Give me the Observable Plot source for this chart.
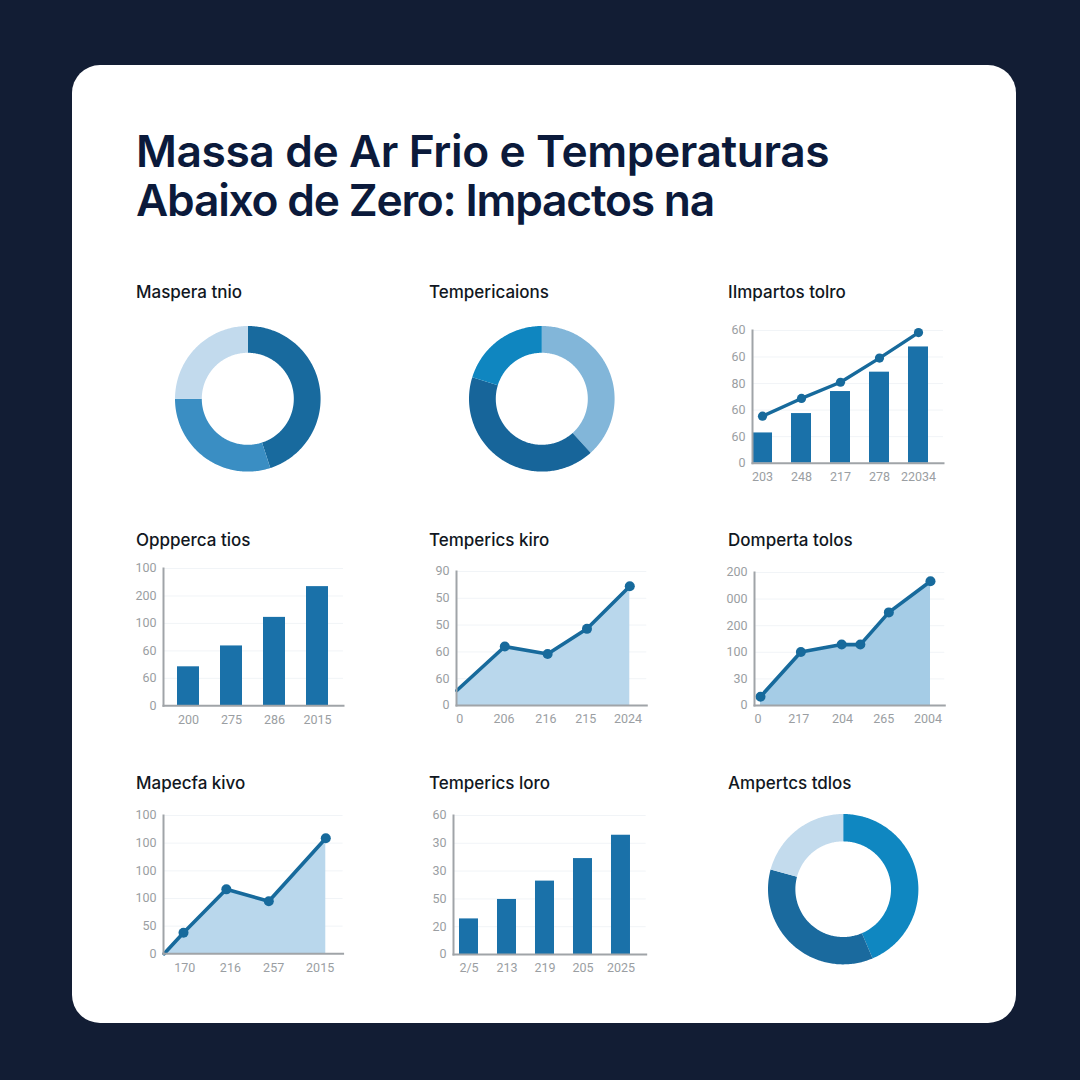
<!DOCTYPE html>
<html lang="pt">
<head>
<meta charset="utf-8">
<script src="https://cdn.jsdelivr.net/npm/d3@7"></script>
<script src="https://cdn.jsdelivr.net/npm/@observablehq/plot@0.6"></script>
<style>
html,body{margin:0;padding:0;width:1080px;height:1080px;overflow:hidden;background:#121d34;}
#stage{position:relative;width:1080px;height:1080px;background:#121d34;}
#card{position:absolute;left:72px;top:65px;width:944px;height:958px;background:#fff;border-radius:28px;}
h1{position:absolute;left:136px;top:127px;margin:0;font:600 44.3px/49px Inter,sans-serif;color:#0b1a3b;letter-spacing:-0.4px;white-space:nowrap;}
h1 span{letter-spacing:-1.2px;}
.t{position:absolute;font:500 17px/20px Inter,sans-serif;color:#111722;white-space:nowrap;}
.p{position:absolute;}
.p svg{display:block;background:transparent;}
</style>
</head>
<body>
<div id="stage"><div id="card"></div>
<h1>Massa de Ar Frio e Temperaturas<br><span>Abaixo de Zero: Impactos na</span></h1>
</div>
<script>
// ---- data ----
const panelTitles = ["Maspera tnio","Tempericaions","IImpartos tolro","Oppperca tios","Temperics kiro","Domperta tolos","Mapecfa kivo","Temperics loro","Ampertcs tdlos"];

const donut1Values = [45, 30, 25];
const donut2Values = [38.3, 41.5, 20.2];
const donut3Values = [43.6, 35.6, 20.8];

const combo3XLabels = ["203","248","217","278","22034"];
const combo3YLabels = ["0","60","60","80","60","60"];
const combo3Bars = [1.14,1.87,2.70,3.43,4.38];
const combo3Line = [1.77,2.44,3.05,3.96,4.92];

const bars4XLabels = ["200","275","286","2015"];
const bars4YLabels = ["0","60","60","100","200","100"];
const bars4Values = [1.42,2.18,3.22,4.34];

const area5XTicks = [0.07,1.09,2.06,2.98,3.96];
const area5XLabels = ["0","206","216","215","2024"];
const area5YLabels = ["0","60","60","50","50","90"];
const area5X = [0,1.11,2.10,3.01,4];
const area5Y = [0.56,2.2,1.92,2.86,4.45];

const area6XTicks = [-0.06,0.90,1.93,2.90,3.94];
const area6XLabels = ["0","217","204","265","2004"];
const area6YLabels = ["0","30","100","200","000","200"];
const area6X = [0,0.95,1.91,2.35,3.02,4];
const area6Y = [0.33,2.01,2.29,2.29,3.5,4.67];

const area7XTicks = [0.51,1.64,2.71,3.86];
const area7XLabels = ["170","216","257","2015"];
const area7YLabels = ["0","50","100","100","100","100"];
const area7X = [0,0.48,1.54,2.59,4];
const area7Y = [0,0.76,2.33,1.9,4.18];

const bars8XLabels = ["2/5","213","219","205","2025"];
const bars8YLabels = ["0","20","50","30","30","60"];
const bars8Values = [1.28,1.98,2.64,3.45,4.29];

// ---- styles ----
const BLUE = "#1a71a9", LINE = "#176a9c", AXIS = "#a0a4a8", GRID = "#f1f4f7", TICK = "#9a9ea2";
const stage = document.getElementById("stage");
const FONT = {fontFamily:"Roboto, sans-serif",fontSize:"12.5px",color:TICK,background:"transparent",overflow:"visible"};

function place(node,left,top){
  const d=document.createElement("div");d.className="p";d.style.left=left+"px";d.style.top=top+"px";d.appendChild(node);stage.appendChild(d);
}
function title(i,x,y){
  const d=document.createElement("div");d.className="t";d.style.left=x+"px";d.style.top=y+"px";d.textContent=panelTitles[i];stage.appendChild(d);
}

function donut(values,colors,cx,cy,R,inner){
  const names=values.map((_,i)=>"s"+i);
  const total=d3.sum(values);
  const pts=[];let a0=0;
  values.forEach((v,i)=>{
    const a1=a0+v/total*2*Math.PI;
    const n=Math.ceil((a1-a0)/(Math.PI/180));
    for(let k=0;k<=n;k++){
      const a=a0+(a1-a0)*k/n;
      pts.push({slice:names[i],xo:Math.sin(a),yo:Math.cos(a),xi:inner*Math.sin(a),yi:inner*Math.cos(a)});
    }
    a0=a1;
  });
  const m=2;
  place(Plot.plot({
    width:2*R+2*m,height:2*R+2*m,margin:m,
    style:{background:"transparent",overflow:"visible"},
    x:{domain:[-1,1],axis:null},y:{domain:[-1,1],axis:null},
    color:{type:"ordinal",domain:names,range:colors},
    marks:[Plot.area(pts,{x1:"xo",y1:"yo",x2:"xi",y2:"yi",z:"slice",fill:"slice",curve:"linear"})]
  }),cx-R-m,cy-R-m);
}

// frame: axis position in page pixels; x range given in page pixels too
function chart(cfg){
  const {left,right,top,bottom,xRange,xScale,yLabels,marks,xAxis}=cfg;
  const mL=44,mR=12,mT=10,mB=28;
  const ox=left-mL;
  const yTicks=yLabels.map((_,i)=>i);
  place(Plot.plot({
    width:right-left+mL+mR,height:bottom-top+mT+mB,
    marginLeft:mL,marginRight:mR,marginTop:mT,marginBottom:mB,
    style:FONT,
    x:{...xScale,range:[xRange[0]-ox,xRange[1]-ox]},
    y:{domain:[0,5],range:[bottom-top+mT,mT]},
    marks:[
      Plot.gridY(yTicks.slice(1),{stroke:GRID,strokeOpacity:1,strokeWidth:1}),
      ...marks,
      Plot.frame({anchor:"left",stroke:AXIS,strokeWidth:2}),
      Plot.frame({anchor:"bottom",stroke:AXIS,strokeWidth:2}),
      Plot.axisY({ticks:yTicks,tickFormat:d=>yLabels[d],tickSize:0,tickPadding:7,label:null,fill:TICK,stroke:null}),
      xAxis
    ]
  }),ox,top-mT);
}
function bandScale(labels){return {type:"band",domain:labels,paddingInner:0.5,paddingOuter:0.25};}
function bandAxis(){return Plot.axisX({tickSize:0,tickPadding:9,label:null,fill:TICK,stroke:null});}
function barMark(labels,vals){return Plot.barY(labels.map((k,i)=>({k,v:vals[i]})),{x:"k",y:"v",fill:BLUE});}
function areaChart(cfg,xs,ys,ticks,labels,fill){
  const rows=xs.map((x,i)=>({x,y:ys[i]}));
  const names=new Map(ticks.map((t,i)=>[t,labels[i]]));
  chart({...cfg,xScale:{type:"linear",domain:[0,4]},marks:[
    Plot.areaY(rows,{x:"x",y:"y",fill,curve:"linear"}),
    Plot.line(rows,{x:"x",y:"y",stroke:LINE,strokeWidth:3.6,curve:"linear"}),
    Plot.dot(rows.filter(d=>d.y>0&&(d.x>0||cfg.firstDot)),{x:"x",y:"y",r:5,fill:LINE})
  ],xAxis:Plot.axisX({ticks,tickFormat:d=>names.get(d),tickSize:0,tickPadding:9,label:null,fill:TICK,stroke:null})});
}

// ---- panels ----
[[0,136,282],[1,429,282],[2,728,282],[3,136,530],[4,429,530],[5,728,530],[6,136,773],[7,429,773],[8,728,773]].forEach(a=>title(...a));

donut(donut1Values,["#186a9e","#3a8ec3","#c2daed"],247.4,398.7,72.8,0.632);
donut(donut2Values,["#82b6d9","#17659a","#0f86c0"],542,398.7,72.8,0.632);
donut(donut3Values,["#0f87c1","#1a6a9e","#c3dbed"],842.7,888.7,75.2,0.636);

chart({left:752,right:943,top:330,bottom:462.7,xRange:[741,938],xScale:bandScale(combo3XLabels),yLabels:combo3YLabels,
  marks:[barMark(combo3XLabels,combo3Bars),
    Plot.line(combo3XLabels.map((k,i)=>({k,v:combo3Line[i]})),{x:"k",y:"v",stroke:LINE,strokeWidth:3.4}),
    Plot.dot(combo3XLabels.map((k,i)=>({k,v:combo3Line[i]})),{x:"k",y:"v",r:4.6,fill:LINE})],
  xAxis:bandAxis()});

chart({left:162.7,right:342.7,top:568,bottom:705.3,xRange:[166.2,338.2],xScale:bandScale(bars4XLabels),yLabels:bars4YLabels,
  marks:[barMark(bars4XLabels,bars4Values)],xAxis:bandAxis()});

areaChart({left:455.7,right:646,top:571,bottom:705,xRange:[456,629],yLabels:area5YLabels},area5X,area5Y,area5XTicks,area5XLabels,"#b9d7ec");
areaChart({left:753.7,right:944,top:572,bottom:705,xRange:[759.7,929.7],yLabels:area6YLabels,firstDot:true},area6X,area6Y,area6XTicks,area6XLabels,"#a5cce6");
areaChart({left:162.7,right:342.3,top:815,bottom:953.3,xRange:[163.3,325],yLabels:area7YLabels},area7X,area7Y,area7XTicks,area7XLabels,"#b9d7ec");

chart({left:453.3,right:646,top:815,bottom:954,xRange:[448.8,640.8],xScale:bandScale(bars8XLabels),yLabels:bars8YLabels,
  marks:[barMark(bars8XLabels,bars8Values)],xAxis:bandAxis()});
</script>
</body>
</html>
